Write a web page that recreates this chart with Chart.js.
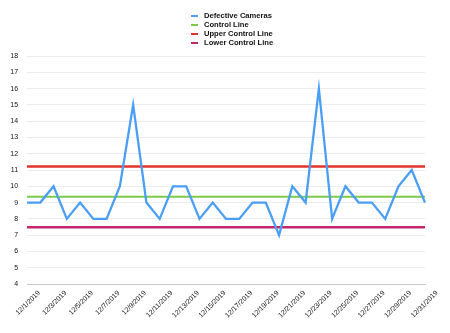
<!DOCTYPE html>
<html>
<head>
<meta charset="utf-8">
<script src="https://cdn.jsdelivr.net/npm/chart.js@4.4.0/dist/chart.umd.min.js"></script>
<style>
    body { margin: 0; background: #fff; }
    #wrap { position: relative; width: 450px; height: 333px; }
    #legend { position: absolute; left: 191px; top: 11px; font: bold 7.6px "Liberation Sans", Arial, sans-serif; color: #111; }
    #legend .item { height: 9px; line-height: 9px; display: flex; align-items: center; white-space: nowrap; }
    #legend .mark { width: 7px; height: 2px; margin-right: 6px; }
</style>
</head>
<body>
<div id="wrap">
    <canvas id="spcChart"></canvas>
    <div id="legend"></div>
</div>
<script>
// datos del grafico
const dates = [
    '12/1/2019', '12/2/2019', '12/3/2019', '12/4/2019', '12/5/2019', '12/6/2019', '12/7/2019', '12/8/2019',
    '12/9/2019', '12/10/2019', '12/11/2019', '12/12/2019', '12/13/2019', '12/14/2019', '12/15/2019', '12/16/2019',
    '12/17/2019', '12/18/2019', '12/19/2019', '12/20/2019', '12/21/2019', '12/22/2019', '12/23/2019', '12/24/2019',
    '12/25/2019', '12/26/2019', '12/27/2019', '12/28/2019', '12/29/2019', '12/30/2019', '12/31/2019'
];
const defectiveCameras = [9, 9, 10, 8, 9, 8, 8, 10, 15, 9, 8, 10, 10, 8, 9, 8, 8, 9, 9, 7, 10, 9, 16, 8, 10, 9, 9, 8, 10, 11, 9];
const controlLine = 9.36;
const upperControlLine = 11.22;
const lowerControlLine = 7.49;
const yTicks = [4, 5, 6, 7, 8, 9, 10, 11, 12, 13, 14, 15, 16, 17, 18];

const flat = v => dates.map(() => v);

const series = [
    { label: 'Defective Cameras', data: defectiveCameras, color: '#4a9ef6', width: 2.3 },
    { label: 'Control Line', data: flat(controlLine), color: '#7ccb48', width: 2 },
    { label: 'Upper Control Line', data: flat(upperControlLine), color: '#e6302b', width: 2.5 },
    { label: 'Lower Control Line', data: flat(lowerControlLine), color: '#c4266a', width: 2.5 }
];

const tickFont = { family: '"Liberation Sans", Arial, sans-serif', size: 7 };

const chart = new Chart(document.getElementById('spcChart'), {
    type: 'line',
    data: {
        labels: dates,
        datasets: series.map(s => ({
            label: s.label,
            data: s.data,
            borderColor: s.color,
            backgroundColor: s.color,
            borderWidth: s.width,
            pointRadius: 0,
            tension: 0,
            fill: false
        }))
    },
    options: {
        responsive: true,
        maintainAspectRatio: false,
        animation: false,
        layout: { padding: { top: 56, right: 25, left: 0, bottom: 0 } },
        plugins: { legend: { display: false }, tooltip: { enabled: false } },
        scales: {
            x: {
                offset: false,
                grid: { display: false, drawTicks: false },
                border: { color: '#c8c8c8', width: 1 },
                ticks: {
                    autoSkip: false,
                    minRotation: 45,
                    maxRotation: 45,
                    padding: 5,
                    labelOffset: 12,
                    color: '#111',
                    font: tickFont,
                    callback: (v, i) => i % 2 === 0 ? dates[i] : ''
                },
                afterFit: s => { s.height = 49; }
            },
            y: {
                min: yTicks[0],
                max: yTicks[yTicks.length - 1],
                afterBuildTicks: s => { s.ticks = yTicks.map(v => ({ value: v })); },
                grid: { color: '#ececec', lineWidth: 1, drawTicks: false },
                border: { display: false },
                ticks: { padding: 9, color: '#111', font: tickFont },
                afterFit: s => { s.width = 26; }
            }
        }
    }
});

// leyenda en html
const legendEl = document.getElementById('legend');
chart.data.datasets.forEach(ds => {
    const item = document.createElement('div');
    item.className = 'item';
    item.innerHTML = `<span class="mark" style="background:${ds.borderColor}"></span><span>${ds.label}</span>`;
    legendEl.appendChild(item);
});
</script>
</body>
</html>
